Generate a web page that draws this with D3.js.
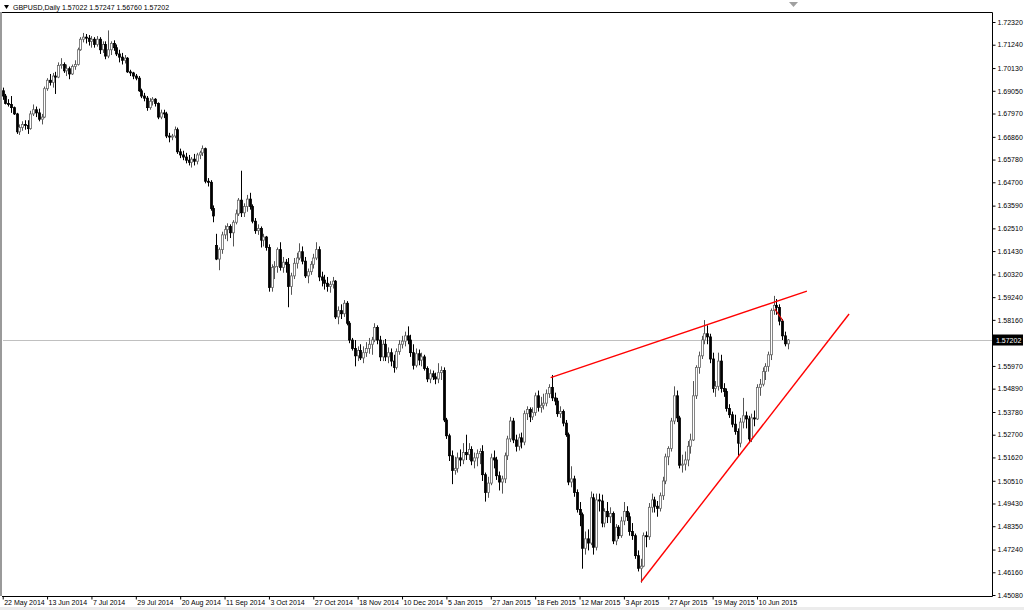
<!DOCTYPE html>
<html><head><meta charset="utf-8">
<script src="https://cdn.jsdelivr.net/npm/d3@7"></script>
<style>
html,body{margin:0;padding:0;background:#fff;}
svg{display:block;}
text{font-family:"Liberation Sans",Arial,sans-serif;}
</style></head>
<body>
<svg id="c" width="1024" height="610"></svg>
<script>
// ---------- DATA (GBPUSD Daily) ----------
const symbol = "GBPUSD,Daily";
const lastQuote = ["1.57022","1.57247","1.56760","1.57202"];
const currentPrice = 1.57202;

const dateLabels = ["22 May 2014","13 Jun 2014","7 Jul 2014","29 Jul 2014","20 Aug 2014","11 Sep 2014","3 Oct 2014","27 Oct 2014","18 Nov 2014","10 Dec 2014","5 Jan 2015","27 Jan 2015","18 Feb 2015","12 Mar 2015","3 Apr 2015","27 Apr 2015","19 May 2015","10 Jun 2015"];
const barsPerDateLabel = 16;

const priceTicks = [1.72320,1.71240,1.70130,1.69050,1.67970,1.66860,1.65780,1.64700,1.63590,1.62510,1.61430,1.60320,1.59240,1.58160,1.57080,1.55970,1.54890,1.53780,1.52700,1.51620,1.50510,1.49430,1.48350,1.47240,1.46160,1.45080];

const opens = [1.6905,1.6880,1.6845,1.6840,1.6825,1.6795,1.6710,1.6730,1.6745,1.6740,1.6725,1.6795,1.6815,1.6800,1.6770,1.6780,1.6915,1.6955,1.6945,1.6975,
1.6970,1.7025,1.7030,1.7000,1.7010,1.6985,1.7020,1.7030,1.7100,1.7150,1.7160,1.7155,1.7140,1.7150,1.7125,1.7150,1.7100,1.7125,1.7070,1.7100,
1.7130,1.7110,1.7080,1.7065,1.7050,1.7060,1.6995,1.6990,1.6975,1.6965,1.6905,1.6880,1.6870,1.6825,1.6855,1.6865,1.6845,1.6780,1.6800,1.6795,
1.6690,1.6685,1.6690,1.6720,1.6615,1.6600,1.6590,1.6575,1.6565,1.6580,1.6570,1.6600,1.6610,1.6630,1.6475,1.6470,1.6345,1.6170,1.6105,1.6150,
1.6220,1.6245,1.6260,1.6230,1.6280,1.6320,1.6385,1.6325,1.6355,1.6390,1.6355,1.6285,1.6240,1.6250,1.6195,1.6210,1.6160,1.5970,1.6065,1.6070,
1.6150,1.6065,1.6090,1.6080,1.5975,1.6025,1.6085,1.6110,1.6140,1.6095,1.6025,1.6045,1.6080,1.6110,1.6150,1.6020,1.6005,1.5990,1.5975,1.5985,
1.6000,1.5830,1.5860,1.5845,1.5895,1.5800,1.5720,1.5680,1.5645,1.5670,1.5635,1.5660,1.5680,1.5700,1.5720,1.5780,1.5720,1.5640,1.5700,1.5640,
1.5660,1.5620,1.5590,1.5665,1.5700,1.5715,1.5740,1.5720,1.5660,1.5600,1.5655,1.5625,1.5640,1.5585,1.5535,1.5560,1.5545,1.5535,1.5565,1.5575,
1.5340,1.5265,1.5170,1.5100,1.5110,1.5160,1.5150,1.5185,1.5175,1.5200,1.5145,1.5160,1.5180,1.5190,1.5080,1.4995,1.5040,1.5160,1.5150,1.5075,
1.5045,1.5060,1.5170,1.5250,1.5335,1.5245,1.5215,1.5255,1.5235,1.5370,1.5390,1.5355,1.5375,1.5455,1.5400,1.5410,1.5420,1.5465,1.5495,1.5445,
1.5430,1.5370,1.5380,1.5325,1.5270,1.5045,1.5060,1.4995,1.4915,1.4890,1.4730,1.4775,1.4755,1.4970,1.4735,1.4960,1.4955,1.4850,1.4905,1.4880,
1.4895,1.4765,1.4830,1.4790,1.4860,1.4905,1.4880,1.4810,1.4790,1.4695,1.4635,1.4645,1.4790,1.4785,1.4925,1.4960,1.4930,1.4920,1.4980,1.5050,
1.5165,1.5205,1.5335,1.5455,1.5350,1.5125,1.5130,1.5150,1.5215,1.5245,1.5455,1.5590,1.5645,1.5720,1.5750,1.5735,1.5630,1.5490,1.5500,1.5620,
1.5490,1.5475,1.5395,1.5365,1.5320,1.5285,1.5230,1.5330,1.5360,1.5345,1.5250,1.5350,1.5345,1.5495,1.5510,1.5570,1.5595,1.5650,1.5860,1.5885,
1.5875,1.5810,1.5740,1.57022];
const highs = [1.6920,1.6890,1.6865,1.6880,1.6830,1.6800,1.6745,1.6760,1.6765,1.6765,1.6810,1.6840,1.6830,1.6820,1.6795,1.6925,1.6965,1.6985,1.6990,1.6995,
1.7040,1.7060,1.7040,1.7030,1.7020,1.7030,1.7050,1.7110,1.7160,1.7180,1.7175,1.7170,1.7165,1.7160,1.7165,1.7160,1.7140,1.7140,1.7192,1.7140,
1.7145,1.7125,1.7100,1.7085,1.7075,1.7065,1.7005,1.6995,1.6985,1.6975,1.6915,1.6895,1.6880,1.6870,1.6875,1.6870,1.6850,1.6815,1.6815,1.6805,
1.6705,1.6700,1.6735,1.6730,1.6630,1.6620,1.6610,1.6600,1.6590,1.6605,1.6610,1.6620,1.6645,1.6635,1.6490,1.6480,1.6360,1.6225,1.6160,1.6235,
1.6265,1.6275,1.6270,1.6290,1.6340,1.6395,1.6525,1.6370,1.6410,1.6420,1.6365,1.6300,1.6270,1.6260,1.6225,1.6215,1.6175,1.6080,1.6095,1.6160,
1.6185,1.6115,1.6105,1.6110,1.6040,1.6110,1.6135,1.6180,1.6165,1.6115,1.6060,1.6095,1.6130,1.6185,1.6165,1.6045,1.6030,1.6020,1.6000,1.6020,
1.6005,1.5880,1.5890,1.5910,1.5905,1.5810,1.5730,1.5720,1.5690,1.5700,1.5690,1.5710,1.5730,1.5735,1.5800,1.5790,1.5740,1.5720,1.5725,1.5685,
1.5680,1.5650,1.5680,1.5720,1.5740,1.5760,1.5785,1.5745,1.5700,1.5680,1.5675,1.5660,1.5650,1.5595,1.5580,1.5575,1.5565,1.5610,1.5595,1.5590,
1.5350,1.5275,1.5195,1.5165,1.5185,1.5200,1.5230,1.5270,1.5230,1.5215,1.5185,1.5200,1.5205,1.5220,1.5090,1.5070,1.5180,1.5195,1.5165,1.5095,
1.5075,1.5185,1.5265,1.5355,1.5350,1.5270,1.5275,1.5280,1.5385,1.5405,1.5400,1.5400,1.5470,1.5480,1.5450,1.5465,1.5485,1.5510,1.5554,1.5470,
1.5445,1.5405,1.5390,1.5340,1.5280,1.5120,1.5075,1.5010,1.4950,1.4900,1.4810,1.4820,1.5000,1.4990,1.4990,1.4990,1.4985,1.4920,1.4950,1.4925,
1.4905,1.4845,1.4840,1.4880,1.4950,1.4930,1.4900,1.4850,1.4800,1.4720,1.4680,1.4805,1.4810,1.4945,1.4990,1.4975,1.4955,1.4995,1.5070,1.5180,
1.5215,1.5350,1.5500,1.5480,1.5360,1.5175,1.5190,1.5240,1.5275,1.5525,1.5600,1.5665,1.5740,1.5815,1.5790,1.5750,1.5660,1.5525,1.5660,1.5650,
1.5515,1.5490,1.5415,1.5380,1.5365,1.5300,1.5350,1.5445,1.5380,1.5360,1.5370,1.5385,1.5510,1.5535,1.5590,1.5610,1.5665,1.5870,1.5930,1.5915,
1.5890,1.5820,1.5760,1.57247];
const lows = [1.6862,1.6840,1.6830,1.6800,1.6790,1.6700,1.6695,1.6715,1.6720,1.6700,1.6720,1.6785,1.6780,1.6760,1.6745,1.6775,1.6905,1.6930,1.6920,1.6890,
1.6965,1.7010,1.6990,1.6975,1.6960,1.6980,1.7005,1.7025,1.7095,1.7135,1.7130,1.7120,1.7110,1.7110,1.7115,1.7080,1.7085,1.7055,1.7060,1.7075,
1.7095,1.7070,1.7040,1.7030,1.7035,1.6990,1.6975,1.6960,1.6955,1.6900,1.6870,1.6855,1.6810,1.6815,1.6835,1.6830,1.6770,1.6770,1.6775,1.6680,
1.6660,1.6670,1.6680,1.6605,1.6585,1.6575,1.6560,1.6550,1.6540,1.6550,1.6555,1.6580,1.6595,1.6465,1.6450,1.6335,1.6280,1.6100,1.6052,1.6130,
1.6200,1.6190,1.6205,1.6165,1.6270,1.6310,1.6305,1.6305,1.6330,1.6340,1.6275,1.6225,1.6220,1.6160,1.6165,1.6145,1.5950,1.5950,1.6010,1.6040,
1.6050,1.6040,1.6040,1.5876,1.5935,1.6010,1.6060,1.6100,1.6080,1.6015,1.5990,1.6030,1.6060,1.6100,1.6000,1.5975,1.5960,1.5950,1.5945,1.5965,
1.5820,1.5795,1.5820,1.5830,1.5790,1.5705,1.5670,1.5595,1.5620,1.5625,1.5610,1.5640,1.5655,1.5650,1.5710,1.5700,1.5620,1.5620,1.5620,1.5610,
1.5595,1.5565,1.5580,1.5650,1.5680,1.5690,1.5700,1.5640,1.5580,1.5590,1.5600,1.5595,1.5575,1.5520,1.5515,1.5530,1.5510,1.5515,1.5530,1.5330,
1.5250,1.5145,1.5035,1.5080,1.5090,1.5120,1.5130,1.5150,1.5150,1.5125,1.5110,1.5120,1.5130,1.5050,1.4952,1.4970,1.5030,1.5110,1.5055,1.5005,
1.4990,1.5040,1.5150,1.5235,1.5230,1.5190,1.5195,1.5205,1.5220,1.5340,1.5330,1.5340,1.5360,1.5380,1.5375,1.5390,1.5405,1.5445,1.5430,1.5410,
1.5355,1.5350,1.5310,1.5260,1.5030,1.5020,1.4975,1.4900,1.4835,1.4633,1.4700,1.4720,1.4745,1.4700,1.4720,1.4905,1.4830,1.4830,1.4850,1.4850,
1.4750,1.4745,1.4775,1.4780,1.4840,1.4860,1.4790,1.4770,1.4680,1.4620,1.4566,1.4640,1.4735,1.4770,1.4900,1.4900,1.4880,1.4905,1.4960,1.5035,
1.5125,1.5190,1.5320,1.5330,1.5110,1.5090,1.5100,1.5120,1.5180,1.5240,1.5440,1.5560,1.5630,1.5700,1.5700,1.5610,1.5470,1.5450,1.5480,1.5470,
1.5450,1.5380,1.5350,1.5305,1.5270,1.5170,1.5210,1.5300,1.5300,1.5230,1.5235,1.5310,1.5340,1.5455,1.5500,1.5530,1.5570,1.5625,1.5840,1.5840,
1.5790,1.5720,1.5690,1.56760];
const closes = [1.6880,1.6845,1.6840,1.6825,1.6795,1.6710,1.6730,1.6745,1.6740,1.6725,1.6795,1.6815,1.6800,1.6770,1.6780,1.6915,1.6955,1.6945,1.6975,1.6970,
1.7025,1.7030,1.7000,1.7010,1.6985,1.7020,1.7030,1.7100,1.7150,1.7160,1.7155,1.7140,1.7150,1.7125,1.7150,1.7100,1.7125,1.7070,1.7100,1.7130,
1.7110,1.7080,1.7065,1.7050,1.7060,1.6995,1.6990,1.6975,1.6965,1.6905,1.6880,1.6870,1.6825,1.6855,1.6865,1.6845,1.6780,1.6800,1.6795,1.6690,
1.6685,1.6690,1.6720,1.6615,1.6600,1.6590,1.6575,1.6565,1.6580,1.6570,1.6600,1.6610,1.6630,1.6475,1.6470,1.6345,1.6310,1.6105,1.6150,1.6220,
1.6245,1.6260,1.6230,1.6280,1.6320,1.6385,1.6325,1.6355,1.6390,1.6355,1.6285,1.6240,1.6250,1.6195,1.6210,1.6160,1.5970,1.6065,1.6070,1.6150,
1.6065,1.6090,1.6080,1.5975,1.6025,1.6085,1.6110,1.6140,1.6095,1.6025,1.6045,1.6080,1.6110,1.6150,1.6020,1.6005,1.5990,1.5975,1.5985,1.6000,
1.5830,1.5860,1.5845,1.5895,1.5800,1.5720,1.5680,1.5645,1.5670,1.5635,1.5660,1.5680,1.5700,1.5720,1.5780,1.5720,1.5640,1.5700,1.5640,1.5660,
1.5620,1.5590,1.5665,1.5700,1.5715,1.5740,1.5720,1.5660,1.5600,1.5655,1.5625,1.5640,1.5585,1.5535,1.5560,1.5545,1.5535,1.5565,1.5575,1.5340,
1.5265,1.5170,1.5100,1.5110,1.5160,1.5150,1.5185,1.5175,1.5200,1.5145,1.5160,1.5180,1.5190,1.5080,1.4995,1.5040,1.5160,1.5150,1.5075,1.5045,
1.5060,1.5170,1.5250,1.5335,1.5245,1.5215,1.5255,1.5235,1.5370,1.5390,1.5355,1.5375,1.5455,1.5400,1.5410,1.5420,1.5465,1.5495,1.5445,1.5430,
1.5370,1.5380,1.5325,1.5270,1.5045,1.5060,1.4995,1.4915,1.4890,1.4730,1.4775,1.4755,1.4970,1.4735,1.4960,1.4955,1.4850,1.4905,1.4880,1.4895,
1.4765,1.4830,1.4790,1.4860,1.4905,1.4880,1.4810,1.4790,1.4695,1.4635,1.4645,1.4790,1.4785,1.4925,1.4960,1.4930,1.4920,1.4980,1.5050,1.5165,
1.5205,1.5335,1.5455,1.5350,1.5125,1.5130,1.5150,1.5215,1.5245,1.5455,1.5590,1.5645,1.5720,1.5750,1.5735,1.5630,1.5490,1.5500,1.5620,1.5490,
1.5475,1.5395,1.5365,1.5320,1.5285,1.5230,1.5330,1.5360,1.5345,1.5250,1.5350,1.5345,1.5495,1.5510,1.5570,1.5595,1.5650,1.5860,1.5885,1.5875,
1.5810,1.5740,1.5702,1.57202];

// red lines drawn on the chart (bar index, price)
const upperLine = [{bar:197.6, price:1.5541},{bar:290.0, price:1.5953}];
const lowerLine = [{bar:230.2, price:1.4571},{bar:305.2, price:1.5844}];
const shortLine = [{bar:278.4, price:1.5868},{bar:281.3, price:1.5812}];

// ---------- LAYOUT ----------
const svg = d3.select("#c");
const plot = {left:2, top:12, right:992, bottom:596};

const x = d3.scaleLinear().domain([0, 272]).range([2.7, 757]);
const y = d3.scaleLinear().domain([1.45080, 1.72320]).range([595, 22]);

// window edge
svg.append("rect").attr("x",0).attr("y",plot.top).attr("width",2).attr("height",plot.bottom-plot.top).attr("fill","#9a9a9a");
svg.append("rect").attr("x",0).attr("y",607).attr("width",1024).attr("height",3).attr("fill","#ececec");

// frame
svg.append("path")
  .attr("d",`M${plot.left},${plot.top+0.5}H${plot.right+0.5}V${plot.bottom+0.5}H${plot.left}`)
  .attr("fill","none").attr("stroke","#000").attr("stroke-width",1);

// header
svg.append("path").attr("d","M4,5 L9,5 L6.5,9 Z").attr("fill","#000");
svg.append("text").attr("x",13).attr("y",10).attr("font-size",7).attr("fill","#000").text(symbol);
svg.append("text").attr("x",62).attr("y",10).attr("font-size",7).attr("fill","#000").text(lastQuote.join(" "));
// chart shift marker
svg.append("path").attr("d","M789,2 L798,2 L793.5,7 Z").attr("fill","#a0a0a0");

// current price line
svg.append("line").attr("x1",plot.left+1).attr("x2",plot.right)
  .attr("y1",Math.round(y(currentPrice))+0.5).attr("y2",Math.round(y(currentPrice))+0.5)
  .attr("stroke","#c0c0c0").attr("stroke-width",1);

// candles
const bars = d3.range(closes.length).map(i => ({i, o:opens[i], h:highs[i], l:lows[i], c:closes[i]}));
const g = svg.append("g");
bars.forEach(b => {
  const px = Math.round(x(b.i));
  const bull = b.c >= b.o;
  g.append("line").attr("x1",px+0.5).attr("x2",px+0.5)
    .attr("y1",y(b.h)).attr("y2",y(b.l))
    .attr("stroke", bull ? "#555" : "#000").attr("stroke-width",1);
  const top = y(Math.max(b.o,b.c)), bot = y(Math.min(b.o,b.c));
  g.append("rect").attr("x",px-0.5).attr("width",2)
    .attr("y",top).attr("height",Math.max(0.8, bot-top))
    .attr("fill", bull ? "#fff" : "#000")
    .attr("stroke", bull ? "#666" : "#000").attr("stroke-width",0.8);
});

// red lines
const tl = d3.line().x(d => x(d.bar)).y(d => y(d.price));
[upperLine, lowerLine].forEach(L => {
  svg.append("path").attr("d", tl(L)).attr("fill","none").attr("stroke","#ff0000").attr("stroke-width",1.4);
});
svg.append("path").attr("d", tl(shortLine)).attr("fill","none").attr("stroke","#e00000").attr("stroke-width",1.2);

// price axis (the tick hidden behind the current-price box keeps its mark, not its label)
const yAxis = d3.axisRight(y).tickValues(priceTicks).tickFormat(d3.format(".5f")).tickSize(3).tickPadding(2);
const ya = svg.append("g").attr("transform",`translate(${plot.right+0.5},0)`).call(yAxis);
ya.select(".domain").remove();
ya.selectAll("text").attr("font-size",7).attr("fill","#000").attr("font-family","Liberation Sans, Arial, sans-serif");
ya.selectAll("line").attr("stroke","#000");
const cy = y(currentPrice);
ya.selectAll(".tick").filter(d => Math.abs(y(d) - cy) < 9).select("text").remove();

// current price label
svg.append("rect").attr("x",993).attr("y",cy-5.5).attr("width",30).attr("height",11).attr("fill","#000");
svg.append("text").attr("x",996).attr("y",cy+2.5).attr("font-size",7).attr("fill","#fff").text(currentPrice.toFixed(5));

// date axis
const tickBars = dateLabels.map((d,k) => k*barsPerDateLabel);
const xAxis = d3.axisBottom(x).tickValues(tickBars).tickFormat((d,k) => dateLabels[k]).tickSize(3).tickPadding(1);
const xa = svg.append("g").attr("transform",`translate(0,${plot.bottom+0.5})`).call(xAxis);
xa.select(".domain").remove();
xa.selectAll("text").attr("font-size",7).attr("fill","#000").attr("text-anchor","start").attr("dx",1).attr("dy","0.35em").attr("y",6)
  .attr("font-family","Liberation Sans, Arial, sans-serif");
xa.selectAll("line").attr("stroke","#000");
</script>
</body></html>
